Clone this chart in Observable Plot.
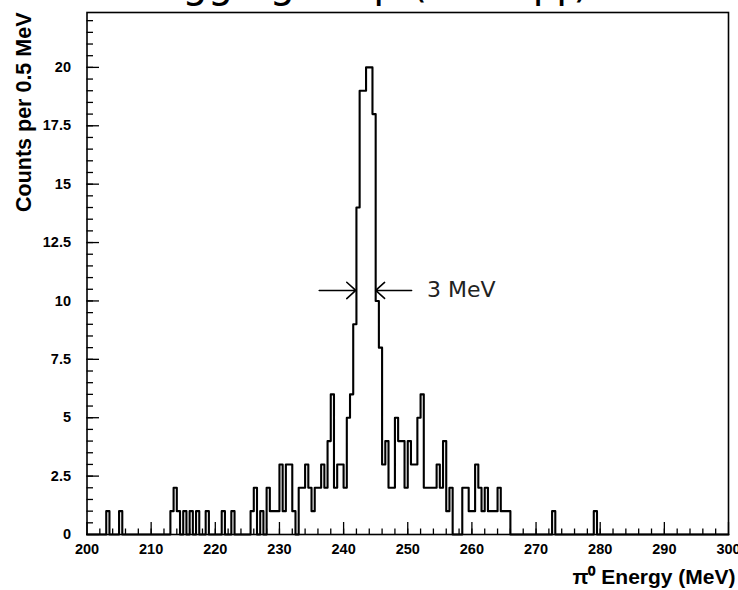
<!DOCTYPE html>
<html><head><meta charset="utf-8">
<script src="https://cdn.jsdelivr.net/npm/d3@7"></script>
<script src="https://cdn.jsdelivr.net/npm/@observablehq/plot@0.6"></script>
<style>
body{margin:0;background:#fff;}
#wrap{position:relative;width:738px;height:590px;overflow:hidden;background:#fff;}
#title{position:absolute;top:-41px;left:140px;text-align:left;font-family:"DejaVu Sans",sans-serif;font-size:40px;line-height:48px;color:#000;white-space:nowrap;z-index:2;}
#chart{position:absolute;top:0;left:0;}
</style></head><body>
<div id="wrap"><div id="title">Tagging Step (&#960;&#8304; &#8594; &#947;&#947;)</div><div id="chart"></div></div>
<script>
// Histogram: counts per 0.5 MeV bin, bins start at 200 MeV
const binStart = 200;
const binWidth = 0.5;
const counts = [
  // 200 - 209.5
  0,0,0,0,0,0,1,0,0,0, 1,0,0,0,0,0,0,0,0,0,
  // 210 - 219.5
  0,0,0,0,0,0,1,2,1,0, 1,0,1,0,1,0,0,1,0,0,
  // 220 - 229.5
  0,0,1,0,0,1,0,0,0,0, 0,1,2,0,1,0,2,1,1,1,
  // 230 - 239.5
  3,1,3,3,1,0,2,2,3,2, 1,2,2,3,2,4,6,2,3,3,
  // 240 - 249.5
  2,5,6,9,14,19,19,20,20,18, 10,8,3,4,2,2,5,4,4,2,
  // 250 - 259.5
  4,3,3,5,6,2,2,2,2,3, 2,4,1,2,0,0,0,2,2,1,
  // 260 - 269.5
  1,3,2,1,2,1,1,1,2,1, 1,1,0,0,0,0,0,0,0,0,
  // 270 - 279.5
  0,0,0,0,0,1,0,0,0,0, 0,0,0,0,0,0,0,0,1,0,
  // 280 - 289.5
  0,0,0,0,0,0,0,0,0,0, 0,0,0,0,0,0,0,0,0,0,
  // 290 - 299.5
  0,0,0,0,0,0,0,0,0,0, 0,0,0,0,0,0,0,0,0,0
];
const xDomain = [200, 300];
const yDomain = [0, 22.35];
const xMajorTicks = [200, 210, 220, 230, 240, 250, 260, 270, 280, 290, 300];
const xMinorTicks = d3.range(202, 300, 2);
const yMajorTicks = [0, 2.5, 5, 7.5, 10, 12.5, 15, 17.5, 20];
const yTickLabels = ["0", "2.5", "5", "7.5", "10", "12.5", "15", "17.5", "20"];
const yMinorTicks = d3.range(0.5, 22.3, 0.5);
const yAxisLabel = "Counts per 0.5 MeV";
const xAxisLabel = "\u03c0\u2070 Energy (MeV)";
// FWHM annotation
const fwhmArrowFrom = [236.2, 250.6];
const fwhmArrowTo = [241.9, 245.0];
const fwhmLevel = 10.45;
const fwhmText = "3 MeV";
const fwhmTextX = 253.0;

const steps = counts.map((c, i) => ({x: binStart + i * binWidth, y: c}));
steps.push({x: binStart + counts.length * binWidth, y: 0});
const arrows = fwhmArrowFrom.map((x1, i) => ({x1, x2: fwhmArrowTo[i], y: fwhmLevel}));

const chart = Plot.plot({
  width: 738,
  height: 590,
  marginLeft: 86.5,
  marginRight: 10,
  marginTop: 12,
  marginBottom: 56,
  style: {fontFamily: "'Liberation Sans', Arial, sans-serif", fontSize: "14px", background: "#fff", color: "#000"},
  x: {domain: xDomain, label: null},
  y: {domain: yDomain, label: null},
  marks: [
    Plot.frame({stroke: "#000", strokeWidth: 1.6}),
    Plot.axisY(yMinorTicks, {tickSize: -6.5, tickFormat: () => "", strokeWidth: 1.3, label: null}),
    Plot.axisY(yMajorTicks, {tickSize: -12.5, tickFormat: () => "", strokeWidth: 1.3, label: null}),
    Plot.axisY(yMajorTicks, {tickSize: 0, tickPadding: 16, tickFormat: (d) => yTickLabels[yMajorTicks.indexOf(d)], fontWeight: "bold", fontSize: 14.5, label: null}),
    Plot.axisX(xMinorTicks, {tickSize: -5.5, tickFormat: () => "", strokeWidth: 1.3, label: null}),
    Plot.axisX(xMajorTicks, {tickSize: -12, tickFormat: () => "", strokeWidth: 1.3, label: null}),
    Plot.axisX(xMajorTicks, {tickSize: 0, tickPadding: 9, tickFormat: d => String(d), fontWeight: "bold", fontSize: 14.5, label: null}),
    Plot.line(steps, {x: "x", y: "y", curve: "step-after", stroke: "#000", strokeWidth: 2.1}),
    Plot.arrow(arrows, {x1: "x1", x2: "x2", y1: "y", y2: "y", stroke: "#000", strokeWidth: 1.6, headLength: 13, headAngle: 84}),
    Plot.text([fwhmText], {x: fwhmTextX, y: fwhmLevel, text: d => d, textAnchor: "start", fontSize: 22, fontFamily: "'DejaVu Sans', sans-serif", fontWeight: "normal", fill: "#222"}),
    Plot.text([yAxisLabel], {frameAnchor: "top-left", text: d => d, rotate: -90, textAnchor: "end", lineAnchor: "middle", dx: -63, dy: 0, fontSize: 21.5, fontWeight: "bold"}),
    Plot.text([xAxisLabel], {frameAnchor: "bottom-right", text: d => d, textAnchor: "end", lineAnchor: "middle", dx: 7, dy: 43, fontSize: 21, fontWeight: "bold"})
  ]
});
document.getElementById("chart").appendChild(chart);
</script>
</body></html>
